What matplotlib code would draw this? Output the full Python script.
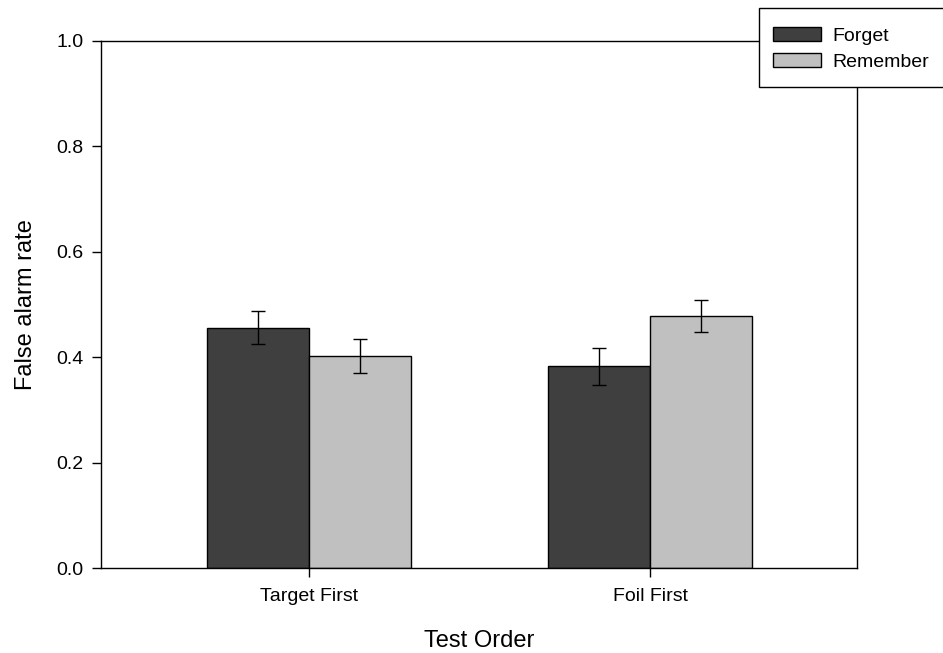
import numpy as np
import matplotlib.pyplot as plt
from matplotlib.patches import Rectangle

plt.rcParams['font.family'] = ['Liberation Sans', 'DejaVu Sans']

# Data
groups = ['Target First', 'Foil First']
forget = [0.456, 0.383]
remember = [0.402, 0.478]
forget_err = [0.031, 0.035]
remember_err = [0.032, 0.030]

dark = '#3f3f3f'
light = '#c0c0c0'

fig = plt.figure(figsize=(9.43, 6.53), dpi=100)
ax = fig.add_axes([101 / 943, 1 - 568.3 / 653, 756 / 943, 527.6 / 653])

x = np.arange(len(groups))
w = 0.3
ax.bar(x - w / 2, forget, w, color=dark, edgecolor='black', linewidth=1, label='Forget', zorder=2)
ax.bar(x + w / 2, remember, w, color=light, edgecolor='black', linewidth=1, label='Remember', zorder=2)
ax.errorbar(x - w / 2, forget, yerr=forget_err, fmt='none', ecolor='black', elinewidth=1, capsize=5, capthick=1, zorder=3)
ax.errorbar(x + w / 2, remember, yerr=remember_err, fmt='none', ecolor='black', elinewidth=1, capsize=5, capthick=1, zorder=3)

ax.set_xlim(-0.61, 1.607)
ax.set_ylim(0, 1.0)
ax.set_yticks(np.arange(0, 1.01, 0.2))
ax.set_yticklabels([f'{v:.1f}' for v in np.arange(0, 1.01, 0.2)])
ax.set_xticks(x)
ax.set_xticklabels(groups)
ax.tick_params(axis='both', direction='out', length=6.5, width=1, labelsize=14, colors='black')
ax.tick_params(axis='x', pad=8)
ax.tick_params(axis='y', pad=6)
for s in ax.spines.values():
    s.set_linewidth(1)

ax.set_xlabel('Test Order', fontsize=17, labelpad=18)
ax.set_ylabel('False alarm rate', fontsize=17, labelpad=14)

# Legend box sticks out past the right edge of the figure
fig.patches.append(Rectangle((759 / 943, 1 - 87 / 653), 200 / 943, 79 / 653,
                             transform=fig.transFigure, facecolor='white',
                             edgecolor='black', linewidth=1, zorder=5))
leg = fig.legend(loc='center left', bbox_to_anchor=(773 / 943, 1 - 49 / 653), fontsize=14,
                 frameon=False, handlelength=2.45, handleheight=0.72, handletextpad=0.6,
                 labelspacing=0.4, borderpad=0, borderaxespad=0)
leg.set_zorder(6)

fig.savefig('out.png', dpi=100)
